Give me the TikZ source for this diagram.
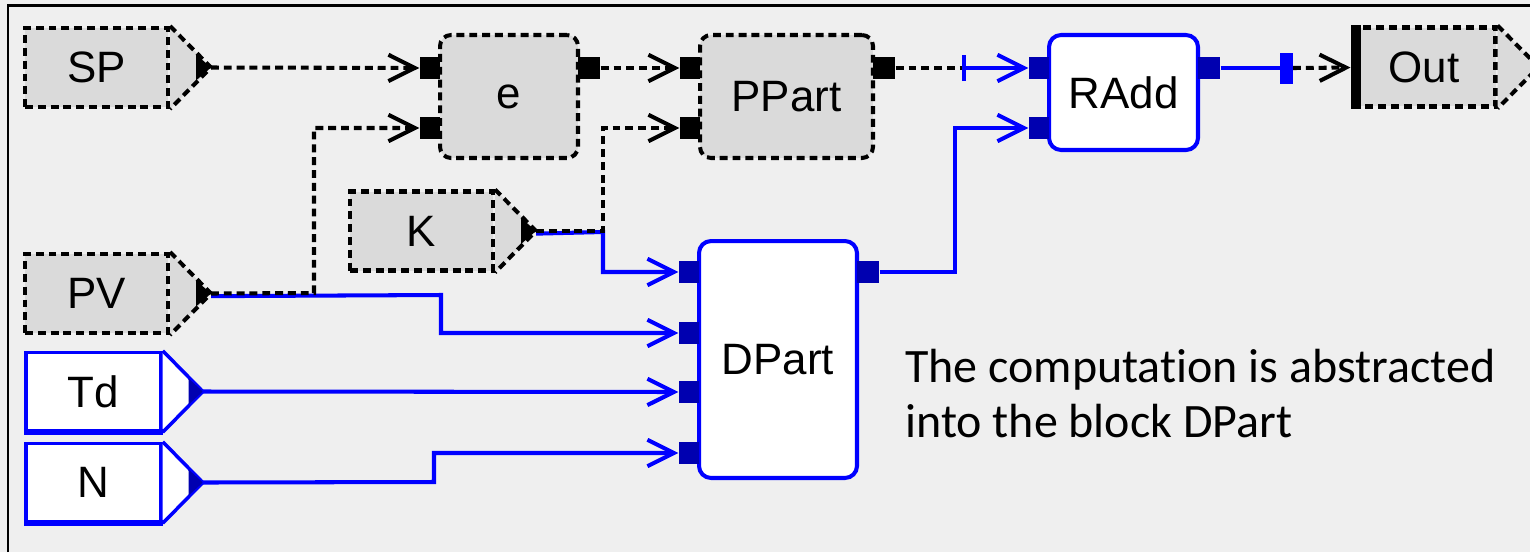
\documentclass[tikz,border=0pt]{standalone}
\usepackage{fontspec}
\setmainfont{Liberation Sans}
\newfontfamily\notefont[Ligatures=NoCommon]{Carlito}
\usepackage{xcolor}
\usetikzlibrary{calc, arrows.meta, positioning}

\definecolor{canvas}{HTML}{EFEFEF}
\definecolor{blockgray}{HTML}{DADADA}
\definecolor{wireblue}{HTML}{0000FF}
\definecolor{portblue}{HTML}{0000B0}

\begin{document}
\begin{tikzpicture}[
    x=0.02cm, y=-0.02cm,
    every node/.style={font=\fontsize{25}{29}\selectfont},
    dashes/.style={line width=2.3pt, dash pattern=on 4.5pt off 2.8pt},
    gblock/.style={draw, dashes, fill=blockgray, rounded corners=2.2mm, align=center},
    bblock/.style={draw=wireblue, line width=2.3pt, fill=white, rounded corners=2.4mm, align=center},
    gconn/.style={draw, dashes, fill=blockgray, minimum width=2.86cm, minimum height=1.58cm},
    bconn/.style={draw=wireblue, line width=2pt, fill=white, minimum width=2.7cm, minimum height=1.56cm},
    inport/.style={fill=black, minimum width=0.4cm, minimum height=0.44cm, inner sep=0pt, anchor=east},
    outport/.style={fill=black, minimum width=0.44cm, minimum height=0.44cm, inner sep=0pt, anchor=west},
    binport/.style={inport, fill=portblue},
    boutport/.style={outport, fill=portblue},
    barb/.style={-{Straight Barb[length=15pt, width=15pt]}},
    gwire/.style={dashes, barb},
    bwire/.style={draw=wireblue, line width=2.3pt},
  ]
  \useasboundingbox (0,0) rectangle (1530,552);
  \fill[canvas] (0,0) rectangle (1530,552);
  \draw[line width=0.06cm] (8,552) -- (8,5) -- (1530,5);

  % gray (dashed) connectors
  \node[gconn] (sp) at (96.5,67.5) {SP};
  \node[gconn] (pv) at (96.5,293.5) {PV};
  \node[gconn] (k)  at (421.5,231) {K};
  \foreach \c in {sp, pv, k} {
    \coordinate (\c-tip) at ($(\c.east)+(41,0)$);
    \filldraw[dashes, fill=blockgray] (\c.north east) -- (\c-tip) -- (\c.south east);
    \fill (\c-tip) -- ++(-15,-13) -- ++(0,26) -- cycle;
  }

  % blue connectors
  \node[bconn] (td) at (93.5,391.5) {Td};
  \node[bconn] (n)  at (93.5,482.5) {N};
  \foreach \c in {td, n} {
    \coordinate (\c-tip) at ($(\c.east)+(40,0)$);
    \filldraw[wireblue, line width=2pt, fill=white] (\c.north east) -- (\c-tip) -- (\c.south east);
    \fill[portblue] (\c-tip) -- ++(-14,-13) -- ++(0,26) -- cycle;
    \draw[wireblue, line width=3.2pt] (\c.south west) -- (\c.south east);
  }

  % output connector
  \node[gconn] (out) at (1424,67) {Out};
  \coordinate (out-tip) at ($(out.east)+(41,0)$);
  \filldraw[dashes, fill=blockgray] (out.north east) -- (out-tip) -- (out.south east);
  \draw[line width=0.2cm] ([xshift=0.1cm]out.north west) -- ([xshift=0.1cm]out.south west);

  % blocks
  \node[gblock, minimum width=2.76cm, minimum height=2.46cm] (e) at (509,96.5) {e};
  \node[gblock, minimum width=3.46cm, minimum height=2.46cm] (pp) at (786.5,96.5) {PPart};
  \node[bblock, minimum width=2.98cm, minimum height=2.3cm] (ra) at (1123.5,92.5) {RAdd};
  \node[bblock, minimum width=3.16cm, minimum height=4.74cm] (dp) at (778,359.5) {DPart};

  % ports
  \node[inport] (e-in1) at (440,68) {};
  \node[inport] (e-in2) at (440,128) {};
  \node[outport] (e-out) at (578,68) {};
  \node[inport] (pp-in1) at (700,68) {};
  \node[inport] (pp-in2) at (700,128) {};
  \node[outport] (pp-out) at (873,68) {};
  \node[binport] (ra-in1) at (1049,68) {};
  \node[binport] (ra-in2) at (1049,128) {};
  \node[boutport] (ra-out) at (1198,68) {};
  \node[binport] (dp-in1) at (699,272) {};
  \node[binport] (dp-in2) at (699,333) {};
  \node[binport] (dp-in3) at (699,392) {};
  \node[binport] (dp-in4) at (699,453) {};
  \node[boutport] (dp-out) at (857,272) {};

  \coordinate (pp-cut) at (962,68);
  \coordinate (ra-cut) at (1293,68);

  % blue wires
  \draw[bwire, barb] ([yshift=-1.5pt]k-tip) -- (603,232) |- (dp-in1);
  \draw[bwire, barb] ([yshift=-1.5pt]pv-tip) -- (441,295) |- (dp-in2);
  \draw[bwire, barb] (td-tip) -- (dp-in3);
  \draw[bwire, barb] (n-tip) -- (434,482) |- (dp-in4);
  \draw[bwire, barb] (dp-out) -- (955,272) |- (ra-in2);
  \draw[bwire, {Bar[width=0.52cm]}-{Straight Barb[length=15pt, width=15pt]}] (pp-cut) -- (ra-in1);
  \draw[bwire, -{Rectangle[length=0.26cm, width=0.62cm]}] (ra-out) -- (ra-cut);

  % dashed wires
  \draw[gwire] (sp-tip) -- (e-in1);
  \draw[gwire] (pv-tip) -- (314,293) |- (e-in2);
  \draw[gwire] (e-out) -- (pp-in1);
  \draw[gwire] (k-tip) -- (603,231) |- (pp-in2);
  \draw[dashes] (pp-out) -- (pp-cut);
  \draw[gwire] (ra-cut) -- (out);

  \node[font=\notefont\fontsize{27.3}{31}\selectfont, align=left, anchor=north west, inner sep=0pt]
    (note) at (905,349) {The computation is abstracted\\into the block DPart};
\end{tikzpicture}
\end{document}
